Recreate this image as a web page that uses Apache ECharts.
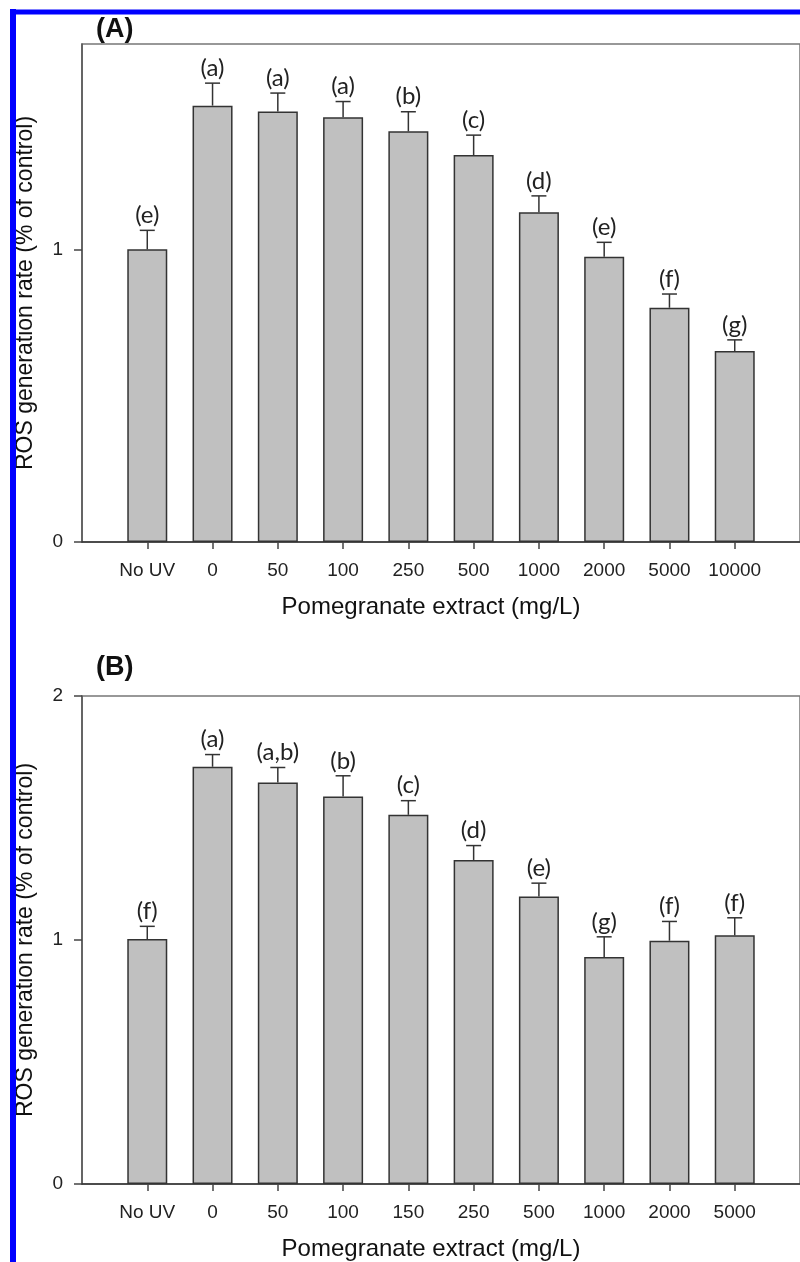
<!DOCTYPE html>
<html>
<head>
<meta charset="utf-8">
<style>
html,body{margin:0;padding:0;background:#fff;}
#chart{width:800px;height:1262px;}
</style>
<script src="https://cdn.jsdelivr.net/npm/echarts@6/dist/echarts.min.js"></script>
</head>
<body>
<div id="chart"></div>
<script>
// ---- data ----
const categoriesA = ['No UV', '0', '50', '100', '250', '500', '1000', '2000', '5000', '10000'];
const valuesA = [1.002, 1.494, 1.474, 1.454, 1.406, 1.325, 1.129, 0.977, 0.802, 0.654];
const errorsA = [0.065, 0.077, 0.063, 0.054, 0.067, 0.068, 0.056, 0.049, 0.047, 0.038];
const lettersA = ['(e)', '(a)', '(a)', '(a)', '(b)', '(c)', '(d)', '(e)', '(f)', '(g)'];

const categoriesB = ['No UV', '0', '50', '100', '150', '250', '500', '1000', '2000', '5000'];
const valuesB = [1.004, 1.710, 1.645, 1.588, 1.513, 1.328, 1.178, 0.930, 0.997, 1.019];
const errorsB = [0.052, 0.050, 0.062, 0.085, 0.058, 0.059, 0.055, 0.083, 0.079, 0.072];
const lettersB = ['(f)', '(a)', '(a,b)', '(b)', '(c)', '(d)', '(e)', '(g)', '(f)', '(f)'];

const yTicksA = [0, 1];
const yTicksB = [0, 1, 2];
const yMaxA = 1.705;
const yMaxB = 2;
const xTitle = 'Pomegranate extract (mg/L)';
const yTitle = 'ROS generation rate (% of control)';
const panelTitles = ['(A)', '(B)'];

// ---- build ----
const AXIS_FONT = '"Liberation Sans", Arial, sans-serif';
const LETTER_FONT = 'Lato, "Open Sans", sans-serif';

function padCats(c) { return [''].concat(c, ['']); }
function padVals(v) { return ['-'].concat(v, ['-']); }

function xAxisCfg(gridIndex, cats) {
  return {
    type: 'category', gridIndex: gridIndex, data: padCats(cats), boundaryGap: false,
    axisLine: { show: true, onZero: false, lineStyle: { color: '#333', width: 1.5 } },
    axisTick: { show: true, length: 7, inside: false, lineStyle: { color: '#444', width: 1.5 },
      interval: function (i) { return i > 0 && i <= cats.length; } },
    axisLabel: { show: true, margin: 19, color: '#222', fontSize: 19, fontFamily: AXIS_FONT,
      interval: function (i) { return i > 0 && i <= cats.length; } },
    splitLine: { show: false },
    name: xTitle, nameLocation: 'middle', nameGap: 53,
    nameTextStyle: { fontSize: 24, color: '#111', fontFamily: AXIS_FONT, verticalAlign: 'top', padding: [0, 20, 0, 0] }
  };
}
function yAxisCfg(gridIndex, max, ticks) {
  return {
    type: 'value', gridIndex: gridIndex, min: 0, max: max, interval: 1,
    axisLine: { show: true, lineStyle: { color: '#555', width: 1.5 } },
    axisTick: { show: true, length: 8, lineStyle: { color: '#444', width: 1.5 }, customValues: ticks },
    axisLabel: { show: true, margin: 19, color: '#222', fontSize: 19, fontFamily: AXIS_FONT, customValues: ticks },
    splitLine: { show: false },
    name: yTitle, nameLocation: 'middle', nameGap: 45,
    nameTextStyle: { fontSize: 23, color: '#111', fontFamily: AXIS_FONT }
  };
}
function barSeries(idx, vals) {
  return {
    type: 'bar', xAxisIndex: idx, yAxisIndex: idx, data: padVals(vals), barWidth: 40,
    itemStyle: { color: '#c0c0c0', borderColor: '#333', borderWidth: 1.5 },
    emphasis: { disabled: true }, silent: true, z: 2
  };
}
function errSeries(idx, vals, errs, letters) {
  const data = vals.map(function (v, i) { return [i + 1, v, errs[i]]; });
  return {
    type: 'custom', xAxisIndex: idx, yAxisIndex: idx, data: data, silent: true, z: 3,
    renderItem: function (params, api) {
      const x = api.value(0), v = api.value(1), e = api.value(2);
      const p0 = api.coord([x, v]);
      const p1 = api.coord([x, v + e]);
      const cap = 7.5;
      return {
        type: 'group',
        children: [
          { type: 'line', shape: { x1: p0[0], y1: p0[1], x2: p1[0], y2: p1[1] }, style: { stroke: '#333', lineWidth: 1.5 } },
          { type: 'line', shape: { x1: p1[0] - cap, y1: p1[1], x2: p1[0] + cap, y2: p1[1] }, style: { stroke: '#333', lineWidth: 1.5 } },
          { type: 'text', x: p1[0], y: p1[1] - 3,
            style: { text: letters[params.dataIndex], fill: '#222', font: '24px ' + LETTER_FONT, align: 'center', verticalAlign: 'bottom' } }
        ]
      };
    }
  };
}

const chart = echarts.init(document.getElementById('chart'), null, { renderer: 'canvas' });
chart.setOption({
  backgroundColor: '#fff',
  animation: false,
  grid: [
    { left: 82, top: 44, right: -14, height: 498, show: true, borderColor: '#777', borderWidth: 1.5, backgroundColor: 'transparent' },
    { left: 82, top: 696, right: -14, height: 498, show: true, borderColor: '#777', borderWidth: 1.5, backgroundColor: 'transparent' }
  ],
  xAxis: [xAxisCfg(0, categoriesA), xAxisCfg(1, categoriesB)],
  yAxis: [yAxisCfg(0, yMaxA, yTicksA), yAxisCfg(1, yMaxB, yTicksB)],
  series: [
    barSeries(0, valuesA), errSeries(0, valuesA, errorsA, lettersA),
    barSeries(1, valuesB), errSeries(1, valuesB, errorsB, lettersB)
  ],
  graphic: [
    { type: 'text', left: 96, top: 16, style: { text: panelTitles[0], font: 'bold 27px ' + AXIS_FONT, fill: '#111' } },
    { type: 'text', left: 96, top: 654, style: { text: panelTitles[1], font: 'bold 27px ' + AXIS_FONT, fill: '#111' } },
    { type: 'line', z: 100, shape: { x1: 13, y1: 9, x2: 13, y2: 1262 }, style: { stroke: '#0000ff', lineWidth: 6 } },
    { type: 'line', z: 100, shape: { x1: 10, y1: 12, x2: 800, y2: 12 }, style: { stroke: '#0000ff', lineWidth: 5 } }
  ]
});
</script>
</body>
</html>
